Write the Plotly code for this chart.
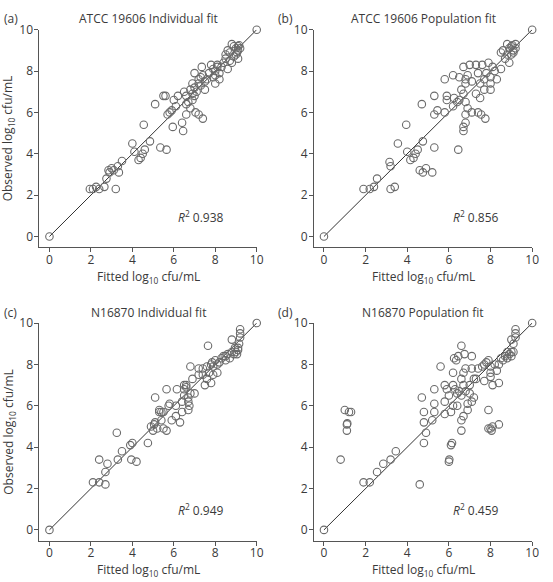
import plotly.graph_objects as go

# ---------------- data ----------------
a_x = [0, 1.95, 2.1, 2.25, 2.4, 2.65, 2.75, 3.2, 2.85, 2.9, 3.0, 3.1, 3.35, 3.3, 3.5,
       4.0, 4.1, 4.3, 4.4, 4.5, 4.6, 4.55, 4.85, 5.35, 5.65,
       5.1, 5.5, 5.6, 5.7, 5.8, 5.9, 5.95, 6.0, 6.2, 6.1,
       6.4, 6.45, 6.6, 7.05, 7.2, 7.4,
       6.5, 6.6, 6.7, 6.8, 6.9, 7.0, 6.9, 7.0, 7.1, 7.2, 7.3, 7.4, 7.5, 7.35, 7.6, 7.7, 7.8,
       7.5, 6.8, 7.0, 6.6, 6.9, 7.2, 7.3,
       7.9, 8.0, 8.1, 8.0, 8.2, 8.3, 8.0, 7.9, 8.1, 8.2, 8.4, 8.5, 8.6, 8.5, 8.6, 8.7, 8.8,
       8.9, 9.0, 9.1, 9.05, 9.0, 9.1, 8.9, 9.2, 9.1, 8.7, 8.8, 9.15, 10]
a_y = [0, 2.3, 2.3, 2.4, 2.3, 2.4, 2.8, 2.3, 3.2, 3.1, 3.3, 3.2, 3.1, 3.4, 3.65,
       4.5, 4.1, 3.7, 3.8, 4.0, 4.2, 5.4, 4.6, 4.3, 4.2,
       6.4, 6.8, 6.8, 5.9, 6.0, 6.1, 5.3, 6.6, 6.8, 6.3,
       5.5, 5.1, 5.9, 6.0, 5.9, 5.7,
       7.0, 6.8, 6.5, 6.2, 6.6, 7.9, 7.4, 7.2, 7.0, 7.6, 7.3, 7.8, 7.1, 8.2, 7.6, 7.9, 8.3,
       7.5, 7.1, 6.8, 6.4, 6.9, 7.4, 7.7,
       8.1, 8.0, 8.2, 7.8, 7.9, 8.2, 7.4, 7.7, 8.3, 7.6, 8.4, 8.6, 8.1, 8.8, 9.0, 8.5, 9.3,
       8.7, 9.1, 9.2, 8.9, 8.8, 9.0, 9.2, 9.1, 8.6, 8.9, 8.4, 9.25, 10]

b_x = [0, 1.9, 2.2, 2.4, 2.55, 3.2, 3.4, 3.15, 3.2, 3.55, 3.95,
       4.0, 4.15, 4.3, 4.4, 4.5, 4.75, 4.6, 4.75, 4.9, 5.2,
       4.7, 5.3, 5.3, 5.45, 5.3,
       5.8, 5.9, 5.9, 6.2, 6.25, 6.4, 6.5,
       5.8, 6.2, 6.5, 6.6, 6.7, 7.0, 7.3, 7.6, 6.9, 7.1, 7.4, 7.5, 7.5, 7.3, 6.8, 6.8, 6.7,
       6.8, 6.9, 6.8, 6.8, 6.7, 6.7, 6.45,
       7.1, 7.4, 7.55, 7.75,
       7.8, 7.9, 8.0, 8.0, 7.7, 8.3, 8.1, 8.2, 8.0, 7.7, 8.5,
       8.5, 8.6, 8.7, 8.8, 8.9, 9.0, 9.1, 9.0, 9.2, 8.9, 9.1, 9.2, 9.05, 8.8, 10]
b_y = [0, 2.3, 2.3, 2.4, 2.8, 2.3, 2.4, 3.6, 3.4, 4.5, 5.4,
       4.1, 3.7, 3.8, 4.0, 4.2, 4.6, 3.2, 3.1, 3.3, 3.1,
       6.4, 6.8, 5.9, 6.1, 4.3,
       6.0, 6.8, 6.6, 6.3, 6.7, 6.5, 6.6,
       7.6, 7.8, 7.7, 7.1, 8.2, 8.3, 8.3, 8.3, 7.8, 7.5, 7.9, 7.4, 6.7, 6.9, 7.6, 7.4, 6.9,
       6.5, 6.2, 5.9, 5.5, 5.3, 5.1, 4.2,
       6.0, 6.0, 5.9, 5.7,
       7.9, 8.4, 7.4, 7.1, 7.1, 7.6, 8.2, 8.0, 7.7, 7.6, 8.1,
       8.9, 9.0, 8.6, 9.3, 9.1, 9.2, 9.0, 8.8, 9.1, 8.4, 8.9, 9.3, 9.25, 8.8, 10]

c_x = [0, 2.1, 2.4, 2.4, 2.7, 2.7, 2.8,
       3.25, 3.3, 3.5, 3.9, 3.95, 4.0, 4.2,
       4.75, 4.9, 5.0, 5.05, 5.1, 5.2, 5.1, 5.3, 5.3, 5.4, 5.4, 5.5, 5.65, 5.65, 5.75,
       5.8, 5.9, 5.5, 6.1, 6.15, 6.3, 6.1, 6.4, 6.4, 6.5, 6.5, 6.6, 6.7, 6.7, 6.8, 6.8,
       6.6, 6.75, 6.7, 6.9, 6.5, 7.0, 7.2, 7.2, 7.4, 7.4, 7.5, 7.6, 7.65, 7.8, 7.9, 7.8,
       7.85, 8.0, 8.1, 7.9, 7.7, 7.6, 8.1, 8.2, 8.3, 8.4, 8.5, 8.6, 8.7, 8.8, 8.8, 8.9,
       9.0, 9.1, 9.1, 9.2, 9.2, 9.2, 9.15, 8.5, 8.95, 9.05, 10]
c_y = [0, 2.3, 2.3, 3.4, 2.2, 2.8, 3.2,
       4.7, 3.4, 3.8, 4.1, 3.4, 4.2, 3.3,
       4.2, 5.0, 4.8, 5.1, 6.4, 4.9, 5.2, 5.8, 5.7, 5.7, 5.3, 4.9, 4.8, 6.8, 6.0,
       6.1, 5.3, 5.7, 5.5, 6.8, 5.2, 6.0, 6.2, 5.7, 6.8, 6.5, 7.0, 6.4, 5.8, 6.6, 7.9,
       6.9, 6.0, 6.2, 7.3, 7.0, 6.6, 7.5, 7.8, 7.5, 7.8, 7.0, 7.3, 8.9, 7.1, 7.5, 8.0,
       8.1, 8.2, 7.6, 7.9, 7.6, 7.9, 8.0, 8.1, 8.3, 8.4, 8.2, 8.5, 8.3, 9.2, 8.6, 8.5,
       8.6, 8.8, 8.7, 9.7, 9.5, 9.3, 9.0, 8.4, 8.8, 8.5, 10]

d_x = [0, 0.8, 1.0, 1.1, 1.12, 1.1, 1.2, 1.3,
       1.9, 2.2, 2.55, 2.85, 3.2, 3.45, 4.6,
       4.7, 4.8, 4.8, 4.8, 4.9, 5.2, 5.3, 5.3, 5.3, 5.6, 5.8, 5.8, 5.8, 5.9, 6.0, 6.1,
       6.2, 6.2, 6.25, 6.2, 6.3, 6.35, 6.45, 6.4, 6.4, 6.5, 6.6, 6.6, 6.6, 6.7, 6.75,
       6.7, 6.8, 6.8, 6.9, 6.9, 7.0, 7.0, 7.1, 7.1, 7.1, 7.2, 7.2, 7.3, 6.6, 6.7, 6.6,
       6.0, 6.02, 6.1, 6.15,
       7.4, 7.6, 7.7, 7.7, 7.8, 7.9, 8.0, 8.0, 8.1, 8.0, 8.2, 8.3, 8.4, 8.4, 8.5, 8.6,
       8.7, 8.8, 8.9, 9.0, 9.0, 9.1, 9.1, 9.2, 9.2, 9.2, 9.0, 8.8,
       7.9, 7.9, 8.0, 8.05, 8.1, 8.4, 10]
d_y = [0, 3.4, 5.8, 5.1, 5.15, 4.8, 5.7, 5.7,
       2.3, 2.3, 2.8, 3.2, 3.4, 3.8, 2.2,
       6.4, 5.7, 5.2, 4.2, 4.7, 5.3, 6.1, 5.7, 6.8, 7.9, 7.0, 6.2, 5.6, 6.8, 6.5, 5.7,
       7.0, 7.6, 8.3, 6.0, 6.8, 8.2, 8.4, 6.6, 6.0, 6.7, 8.9, 7.3, 6.5, 7.6, 8.5,
       7.0, 6.7, 7.8, 6.1, 5.8, 7.0, 6.6, 8.4, 7.8, 6.2, 6.4, 7.3, 7.3, 5.3, 5.5, 4.8,
       3.3, 3.4, 4.1, 4.2,
       7.8, 7.9, 8.0, 7.2, 8.1, 8.2, 7.6, 7.4, 7.0, 7.9, 8.0, 7.7, 7.1, 8.0, 8.3, 8.2,
       8.4, 8.3, 8.5, 8.4, 8.6, 8.6, 9.0, 9.7, 9.5, 9.3, 9.2, 8.6,
       5.8, 4.9, 4.9, 4.8, 5.0, 5.1, 10]

titles = ["ATCC 19606 Individual fit", "ATCC 19606 Population fit",
          "N16870 Individual fit", "N16870 Population fit"]
panel_labels = ["(a)", "(b)", "(c)", "(d)"]
r2_values = ["0.938", "0.856", "0.949", "0.459"]
tick_vals = [0, 2, 4, 6, 8, 10]
identity = [0, 10]

# ---------------- layout ----------------
W, H = 553, 582
FONT = "Open Sans"
TXT = "#3a3a3a"
AX = "#555555"
MK = "#6a6a6a"

# pixel boxes of each plot area: (left, right, top, bottom)
boxes = [(40, 260, 21, 242), (318, 539, 21, 242),
         (40, 260, 319, 540), (318, 539, 319, 540)]

datasets = [(a_x, a_y), (b_x, b_y), (c_x, c_y), (d_x, d_y)]

fig = go.Figure()
layout = dict(width=W, height=H, margin=dict(l=0, r=0, t=0, b=0),
              paper_bgcolor="white", plot_bgcolor="white", showlegend=False,
              font=dict(family=FONT, size=12, color=TXT))
annotations = []

for i, ((xs, ys), (l, r, t, b)) in enumerate(zip(datasets, boxes)):
    n = "" if i == 0 else str(i + 1)
    xa, ya = "x" + n, "y" + n
    fig.add_trace(go.Scatter(x=identity, y=identity, mode="lines",
                             line=dict(color="#333333", width=1),
                             xaxis=xa, yaxis=ya, hoverinfo="skip", cliponaxis=False))
    fig.add_trace(go.Scatter(x=xs, y=ys, mode="markers", cliponaxis=False,
                             marker=dict(symbol="circle-open", size=7.5,
                                         color=MK, line=dict(width=1.1, color=MK)),
                             xaxis=xa, yaxis=ya))
    common = dict(tickvals=tick_vals, ticks="outside", ticklen=4,
                  tickwidth=1, tickcolor=AX, showline=True, linecolor=AX, linewidth=1,
                  showgrid=False, zeroline=False,
                  tickfont=dict(family=FONT, size=12, color=TXT))
    layout["xaxis" + n] = dict(common, range=[-0.48, 10], domain=[l / W, r / W],
                               anchor=ya, ticklabelstandoff=-3)
    layout["yaxis" + n] = dict(common, range=[-0.52, 10], domain=[1 - b / H, 1 - t / H],
                               anchor=xa, ticklabelstandoff=-1)

    # panel title
    annotations.append(dict(text=titles[i], x=(l + r) / 2 / W, y=1 - (t - 11) / H,
                            xref="paper", yref="paper", showarrow=False,
                            xanchor="center", yanchor="middle",
                            font=dict(family=FONT, size=12, color=TXT)))
    # panel label
    annotations.append(dict(text=panel_labels[i], x=(l - 38) / W, y=1 - (t - 11) / H,
                            xref="paper", yref="paper", showarrow=False,
                            xanchor="left", yanchor="middle",
                            font=dict(family=FONT, size=12, color=TXT)))
    # R2
    annotations.append(dict(text="<i>R</i><sup>2</sup> " + r2_values[i],
                            x=7.3, y=0.95, xref=xa, yref=ya, showarrow=False,
                            xanchor="center", yanchor="middle",
                            font=dict(family=FONT, size=12, color=TXT)))
    # x axis title
    annotations.append(dict(text="Fitted log<sub>10</sub> cfu/mL", x=(l + r) / 2 / W,
                            y=1 - (b + 30) / H, xref="paper", yref="paper",
                            showarrow=False, xanchor="center", yanchor="middle",
                            font=dict(family=FONT, size=12, color=TXT)))
    if i % 2 == 0:
        annotations.append(dict(text="Observed log<sub>10</sub> cfu/mL", x=9 / W,
                                y=1 - (t + b) / 2 / H, xref="paper", yref="paper",
                                showarrow=False, textangle=-90,
                                xanchor="center", yanchor="middle",
                                font=dict(family=FONT, size=12, color=TXT)))

layout["annotations"] = annotations
fig.update_layout(**layout)
fig.write_html("out.html")
